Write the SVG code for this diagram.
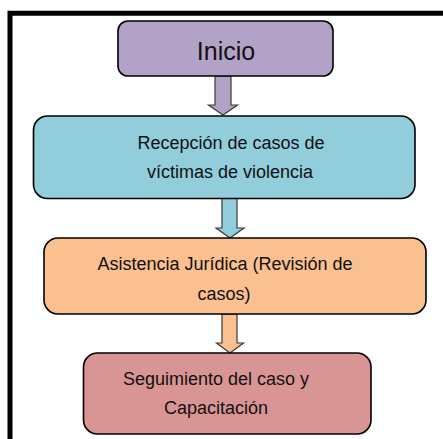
<svg xmlns="http://www.w3.org/2000/svg" width="443" height="439" viewBox="0 0 443 439">
<style>
.box{stroke:#000;stroke-width:1.6}
.arr{stroke:#3a3a3a;stroke-width:1.2;stroke-linejoin:miter}
text{font-family:"Liberation Sans",Arial,sans-serif;fill:#111;text-anchor:middle}
.t{font-size:18px}
</style>
<rect width="443" height="439" fill="#fff"/>
<path d="M10 439 V13.3 H443" fill="none" stroke="#000" stroke-width="5"/>
<g id="connectors">
<path class="arr" fill="#B3A2C7" d="M215 76 H231 V105 H237.5 L223 115 L208.5 105 H215 Z"/>
<path class="arr" fill="#92CDDC" d="M222 198 H237 V228 H244 L230 238 L216 228 H222 Z"/>
<path class="arr" fill="#FAC090" d="M222 314 H237 V343 H243.5 L230 353 L216.5 343 H222 Z"/>
</g>
<g id="inicio">
<rect class="box" x="118" y="21" width="215" height="55" rx="10" fill="#B3A2C7"/>
<text x="226" y="60" font-size="25">Inicio</text>
</g>
<g id="recepcion">
<rect class="box" x="33.5" y="116" width="381.5" height="82.5" rx="14" fill="#92CDDC"/>
<text class="t" x="231" y="149">Recepción de casos de</text>
<text class="t" x="230" y="178">víctimas de violencia</text>
</g>
<g id="asistencia">
<rect class="box" x="44" y="238" width="382" height="76" rx="14" fill="#FAC090"/>
<text class="t" x="225" y="270">Asistencia Jurídica (Revisión de</text>
<text class="t" x="224" y="300">casos)</text>
</g>
<g id="seguimiento">
<rect class="box" x="83.5" y="353" width="287.5" height="81" rx="14" fill="#D99594"/>
<text class="t" x="216" y="385">Seguimiento del caso y</text>
<text class="t" x="216" y="414">Capacitación</text>
</g>
</svg>
